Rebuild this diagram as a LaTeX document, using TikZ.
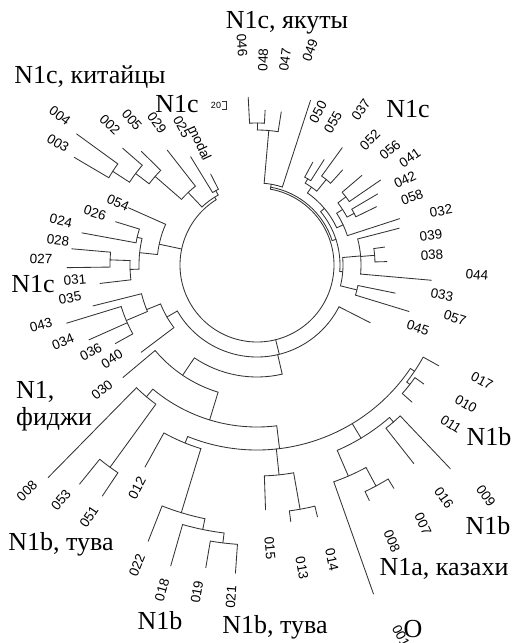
\documentclass[tikz,border=0pt]{standalone}
\usepackage{fontspec}
\setmainfont{Liberation Serif}
\newfontfamily\labfont{Liberation Sans}
\newcommand\tarc[3]{\draw[tl] (#2:#1) arc[start angle=#2,end angle=#3,radius=#1];}
\newcommand\trad[3]{\draw[tl] (#1:#2) -- (#1:#3);}
\newcommand\lab[5]{\node[lbl,rotate=#4] (#1) at (#2,-#3) {#5};}
\newcommand\biglab[4]{\node[big] (#1) at (#2,-#3) {#4};}
\begin{document}
\begin{tikzpicture}[x=1pt,y=1pt,
  tl/.style={line width=0.85pt, draw=black!80, line cap=round},
  lbl/.style={font=\labfont\fontsize{13.5}{13.5}\selectfont, inner sep=0pt},
  big/.style={font=\fontsize{26}{27}\selectfont, inner sep=0pt}]
\useasboundingbox (0,0) rectangle (514,-643);
\begin{scope}[shift={(257,-265)}]
% root
\tarc{77}{122}{440}
% top-right
\trad{80}{77}{79}
\tarc{79}{18}{80}
\trad{80}{79}{82}
\tarc{82}{72}{85}
\trad{72}{82}{173}
\trad{85}{82}{135}
\tarc{135}{81}{90}
\trad{81}{135}{155}
\trad{90}{135}{142}
\tarc{142}{87}{93}
\trad{93}{142}{168}
\trad{87}{142}{155}
\trad{18}{79}{83}
\tarc{83}{-4.5}{40}
\trad{40}{83}{88}
\tarc{88}{25}{55}
\trad{55}{88}{95}
\tarc{95}{51}{59.5}
\trad{59.5}{95}{100}
\tarc{100}{57.5}{61.5}
\trad{61.5}{100}{117}
\trad{57.5}{100}{125}
\trad{51}{95}{110}
\tarc{110}{48}{54}
\trad{54}{110}{145}
\trad{48}{110}{128}
\trad{25}{88}{95}
\tarc{95}{18}{33}
\trad{18}{95}{150}
\trad{33}{95}{102}
\tarc{102}{28}{37.5}
\trad{37.5}{102}{112}
\tarc{112}{34.5}{40.5}
\trad{40.5}{112}{138}
\trad{34.5}{112}{150}
\trad{28}{102}{110}
\tarc{110}{26}{30.5}
\trad{30.5}{110}{140}
\trad{26}{110}{133}
\trad{-4.5}{83}{86}
\tarc{86}{-14}{5}
\trad{5}{86}{104}
\tarc{104}{-5}{14.5}
\trad{14.5}{104}{147}
\trad{4.7}{104}{118}
\tarc{118}{1.5}{8}
\trad{8}{118}{129}
\trad{1.5}{118}{130}
\trad{-5}{104}{175}
\trad{-14}{86}{103}
\tarc{103}{-17}{-11.5}
\trad{-11.5}{103}{141}
\trad{-17}{103}{159}
% arc 2
\trad{-76}{77}{92}
\tarc{92}{-150}{-27}
\trad{-27}{92}{127}
\trad{-150}{92}{104}
\tarc{104}{-158}{-143}
\trad{-143}{104}{145}
\trad{-158}{104}{119}
\tarc{119}{-166}{-157}
\trad{-166}{119}{169}
\trad{-157}{119}{142}
\tarc{142}{-163}{-151}
\trad{-163}{142}{199}
\trad{-156}{142}{184}
\trad{-151}{142}{162}
% arc 3
\trad{-77}{92}{112}
\tarc{112}{-124}{-77}
\trad{-124}{112}{133}
\tarc{133}{-140}{-107}
\trad{-140}{133}{175}
\trad{-107}{133}{162}
\tarc{162}{-130}{-83}
\trad{-130}{162}{172}
\tarc{172}{-134.5}{-126}
\trad{-134.5}{172}{298}
\trad{-126}{172}{250}
\tarc{250}{-129}{-123.8}
\trad{-129}{250}{282}
\trad{-123.8}{250}{278}
\trad{-83}{162}{185}
\tarc{185}{-112}{-34}
\trad{-112}{185}{192}
\tarc{192}{-119}{-107}
\trad{-119}{192}{231}
\trad{-107}{192}{259}
\tarc{259}{-111.5}{-101.6}
\trad{-111.5}{259}{297}
\trad{-101.6}{259}{270}
\tarc{270}{-106}{-97}
\trad{-106}{270}{313}
\trad{-97}{270}{280}
\tarc{280}{-99.6}{-94}
\trad{-99.6}{280}{307}
\trad{-94}{280}{309}
\trad{-84}{185}{211}
\tarc{211}{-88}{-80}
\trad{-88}{211}{245}
\trad{-80}{211}{248}
\tarc{248}{-82.5}{-76.5}
\trad{-82.5}{248}{259}
\trad{-76.5}{248}{259}
\trad{-59}{185}{202}
\tarc{202}{-66.6}{-49}
\trad{-49}{202}{208}
\tarc{208}{-51.7}{-46.5}
\trad{-51.7}{208}{253}
\trad{-46.5}{208}{281}
\trad{-66.6}{202}{230}
\tarc{230}{-70.5}{-61.7}
\trad{-70.5}{230}{349}
\trad{-61.7}{230}{251}
\tarc{251}{-64.5}{-58.5}
\trad{-64.5}{251}{261}
\trad{-58.5}{251}{262}
\trad{-34}{185}{190}
\tarc{190}{-38}{-29}
\trad{-29}{190}{208}
\trad{-38}{190}{194}
\tarc{194}{-41.5}{-35.5}
\trad{-35.5}{194}{205}
\trad{-41.5}{194}{207}
% left M
\trad{168}{77}{100}
\tarc{100}{156}{174}
\trad{156}{100}{141}
\trad{174}{100}{118}
\tarc{118}{167}{182}
\trad{167}{118}{123}
\tarc{123}{163}{169.6}
\trad{163}{123}{148}
\trad{169.6}{123}{178}
\trad{182}{118}{127}
\tarc{127}{178}{186.7}
\trad{178}{127}{147}
\tarc{147}{175}{180.8}
\trad{175}{147}{186}
\trad{180.8}{147}{190}
\trad{186.7}{127}{158}
% upper-left N
\trad{122}{77}{80}
\tarc{80}{119}{133.5}
\trad{133.5}{80}{100}
\tarc{100}{128}{139}
\trad{128}{100}{146}
\trad{139}{100}{135}
\tarc{135}{135.5}{143}
\trad{135.5}{135}{162}
\trad{143}{135}{152}
\tarc{152}{139}{147}
\trad{139}{152}{178}
\trad{147}{152}{172}
\tarc{172}{144}{149.5}
\trad{144}{172}{223}
\trad{149.5}{172}{212}
\trad{119}{80}{85}
\tarc{85}{117}{121.5}
\trad{121.5}{85}{127}
\trad{117}{85}{102}
\end{scope}
% leaf labels
\lab{l046}{242}{45}{-86}{046}
\lab{l048}{263}{60}{88}{048}
\lab{l047}{285}{60}{82}{047}
\lab{l049}{310}{50}{70}{049}
\lab{l050}{318}{112}{62}{050}
\lab{l055}{333}{122}{60}{055}
\lab{l037}{361}{110}{55}{037}
\lab{l052}{370}{140}{45}{052}
\lab{l056}{390}{150}{40}{056}
\lab{l041}{410}{158}{35}{041}
\lab{l042}{405}{180}{25}{042}
\lab{l058}{412}{197}{20}{058}
\lab{l032}{441}{211}{10}{032}
\lab{l039}{431}{235}{8}{039}
\lab{l038}{432}{255}{3}{038}
\lab{l044}{477}{275}{-5}{044}
\lab{l033}{442}{295}{-10}{033}
\lab{l057}{455}{318}{-18}{057}
\lab{l045}{418}{328}{-18}{045}
\lab{l017}{482}{381}{-28}{017}
\lab{l010}{466}{404}{-30}{010}
\lab{l011}{451}{424}{-33}{011}
\lab{l016}{444}{498}{-55}{016}
\lab{l009}{486}{496}{-55}{009}
\lab{l007}{423}{524}{-65}{007}
\lab{l008r}{392}{541}{-68}{008}
\lab{l014}{332}{560}{-78}{014}
\lab{l013}{302}{568}{-80}{013}
\lab{l015}{270}{548}{-85}{015}
\lab{l021}{231}{597}{85.5}{021}
\lab{l019}{197}{592}{80}{019}
\lab{l018}{162}{590}{74}{018}
\lab{l022}{137}{565}{68}{022}
\lab{l012}{137}{488}{62}{012}
\lab{l051}{89}{517}{56}{051}
\lab{l053}{61}{500}{50}{053}
\lab{l008l}{27}{491}{44.5}{008}
\lab{l030}{102}{390}{39}{030}
\lab{l040}{112}{359}{33}{040}
\lab{l036}{91}{352}{28}{036}
\lab{l034}{63}{342}{22}{034}
\lab{l043}{41}{325}{15.5}{043}
\lab{l035}{70}{298}{10}{035}
\lab{l031}{75}{280}{5}{031}
\lab{l027}{41}{259}{-2}{027}
\lab{l028}{58}{240}{-7}{028}
\lab{l024}{61}{221}{-13}{024}
\lab{l026}{95}{213}{-18}{026}
\lab{l054}{118}{203}{-24}{054}
\lab{l003}{58}{143}{-31.5}{003}
\lab{l004}{60}{116}{-37}{004}
\lab{l002}{110}{125}{-44}{002}
\lab{l005}{132}{120}{-49}{005}
\lab{l029}{157}{123}{-55}{029}
\lab{l025}{182}{127}{-61.5}{025}
\lab{lmodal}{200}{143}{-65}{modal}
\lab{l001}{401}{636}{-62}{001}
% scale
\node[lbl,font=\labfont\fontsize{9}{9}\selectfont] (sc) at (216,-105) {20};
\draw[tl,line width=0.7pt] (sc.east) ++(1,4) -- ++(4,0) -- ++(0,-8) -- ++(-4,0);
% group labels
\biglab{g1}{287}{23}{N1c, якуты}
\biglab{g2}{90}{77}{N1c, китайцы}
\biglab{g3}{177}{104}{N1c}
\biglab{g4}{408}{109}{N1c}
\biglab{g5}{33}{284}{N1c}
\node[big,align=left,anchor=north west] (g6) at (16,-381) {N1,\\фиджи};
\biglab{g7}{489}{437}{N1b}
\biglab{g8}{488}{526}{N1b}
\biglab{g9}{444}{569}{N1a, казахи}
\biglab{g10}{413}{629}{O}
\biglab{g11}{275}{627}{N1b, тува}
\biglab{g12}{160}{621}{N1b}
\biglab{g13}{61}{544}{N1b, тува}
\end{tikzpicture}
\end{document}
